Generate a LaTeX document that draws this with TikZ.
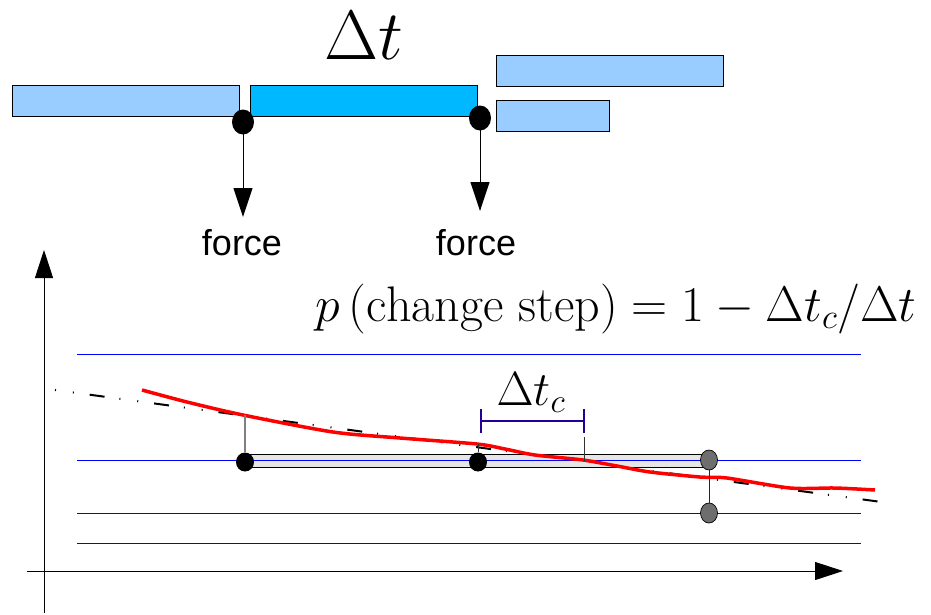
\RequirePackage{fix-cm}
\documentclass[tikz,border=0pt]{standalone}
\usepackage{fontspec}
\newfontfamily\arialfont{Liberation Sans}
\usetikzlibrary{arrows.meta,shapes.geometric}
\definecolor{lightbox}{HTML}{99CCFF}
\definecolor{cyanbox}{HTML}{00B8FF}
\definecolor{bracketblue}{HTML}{220099}
\definecolor{dotgray}{HTML}{6E6E6E}
\definecolor{barfill}{HTML}{E6E6E6}
\tikzset{
  tbox/.style={draw=black, line width=0.8pt, inner sep=0pt, anchor=north west},
  blackdot/.style={ellipse, fill=black, inner sep=0pt, minimum width=22pt, minimum height=25pt},
  bdot/.style={ellipse, fill=black, inner sep=0pt, minimum width=18pt, minimum height=19pt},
  gdot/.style={ellipse, draw=black, line width=0.7pt, fill=dotgray, inner sep=0pt, minimum width=17pt, minimum height=20pt},
  forcearrow/.style={line width=1pt, -{Triangle[length=29pt,width=19pt]}},
  axis/.style={line width=1pt, -{Triangle[length=28pt,width=18pt]}},
  level/.style={blue, line width=0.9pt},
  forcelabel/.style={font=\arialfont\fontsize{36}{40}\selectfont, anchor=base, inner sep=0pt},
  mathlabel/.style={anchor=base, inner sep=0pt},
  trend/.style={line width=2pt, dash pattern=on 1pt off 17pt on 1pt off 16pt on 15pt off 15pt},
  curve/.style={red, line width=3.5pt},
  tick/.style={bracketblue, line width=2.6pt},
}
\begin{document}
\begin{tikzpicture}[x=1pt,y=-1pt]
\useasboundingbox (0,0) rectangle (931,614);
% top row of boxes
\node[tbox, fill=lightbox, minimum width=227pt, minimum height=31pt] (b1) at (12,85) {};
\node[tbox, fill=cyanbox, minimum width=227pt, minimum height=31pt] (b2) at (250,85) {};
\node[tbox, fill=lightbox, minimum width=227pt, minimum height=31pt] (b3) at (496,55) {};
\node[tbox, fill=lightbox, minimum width=113pt, minimum height=31pt] (b4) at (496,100) {};
\node[mathlabel, font=\fontsize{70}{80}\selectfont] (dt) at (364,59) {$\Delta t$};
% force dots and arrows
\node[blackdot] (f1) at (243,122) {};
\node[blackdot] (f2) at (480,118) {};
\coordinate (a1) at (243,217);
\coordinate (a2) at (480,211);
\draw[forcearrow] (f1.center) -- (a1);
\draw[forcearrow] (f2.center) -- (a2);
\node[forcelabel] (l1) at (242,255) {force};
\node[forcelabel] (l2) at (476,255) {force};
% axes
\coordinate (yb) at (44,613);
\coordinate (yt) at (44,250);
\coordinate (xl) at (27,571);
\coordinate (xr) at (843,571);
\draw[axis] (yb) -- (yt);
\draw[axis] (xl) -- (xr);
% formula
\node[mathlabel, font=\fontsize{50}{56}\selectfont] (formula) at (616,321) {$p\,(\mathrm{change\ step}) = 1 - \Delta t_c/\Delta t$};
% level lines
\foreach \yy/\nm in {354/la,460/lb,513/lc,543/ld}{
  \coordinate (\nm w) at (77,\yy);
  \coordinate (\nm e) at (861,\yy);
  \draw[level] (\nm w) -- (\nm e);
}
% trend line
\coordinate (ts) at (55,390);
\coordinate (te) at (889,503);
\draw[trend] (ts) -- (te);
% gray bar
\node[draw=black, line width=0.8pt, fill=barfill, inner sep=0pt, anchor=north west, minimum width=464pt, minimum height=13pt] (bar) at (245,454) {};
\draw[level] (lbw) -- (lbe);
% red curve
\draw[curve] plot[smooth, tension=0.45] coordinates {(142,390) (187,402) (243,415) (333,432) (400,438) (477,444) (505,449) (535,455) (583,460) (617,466) (650,472) (700,477) (727,478) (790,488) (835,488) (875,490)};
% connectors from curve to dots
\coordinate (c1) at (245,415);
\coordinate (c2) at (478,444);
\coordinate (c3) at (584,437);
\coordinate (c3b) at (584,461);
\node[bdot] (d1) at (245,462) {};
\node[bdot] (d2) at (478,462) {};
\node[gdot] (g1) at (709,460) {};
\node[gdot] (g2) at (709,513) {};
\draw[gray, line width=1.5pt] (c1) -- (d1);
\draw[black!80, line width=0.8pt] (c2) -- (d2);
\draw[black!80, line width=0.8pt] (c3) -- (c3b);
\draw[black!85, line width=0.9pt] (g1) -- (g2);
% bracket
\coordinate (bl) at (481,421);
\coordinate (br) at (584,421);
\draw[bracketblue, line width=1.5pt] (bl) -- (br);
\draw[tick] ([yshift=-12pt]bl) -- ([yshift=12pt]bl);
\draw[tick] ([yshift=-12pt]br) -- ([yshift=12pt]br);
\node[mathlabel, font=\fontsize{48}{54}\selectfont] (dtc) at (531,405) {$\Delta t_c$};
\end{tikzpicture}
\end{document}
